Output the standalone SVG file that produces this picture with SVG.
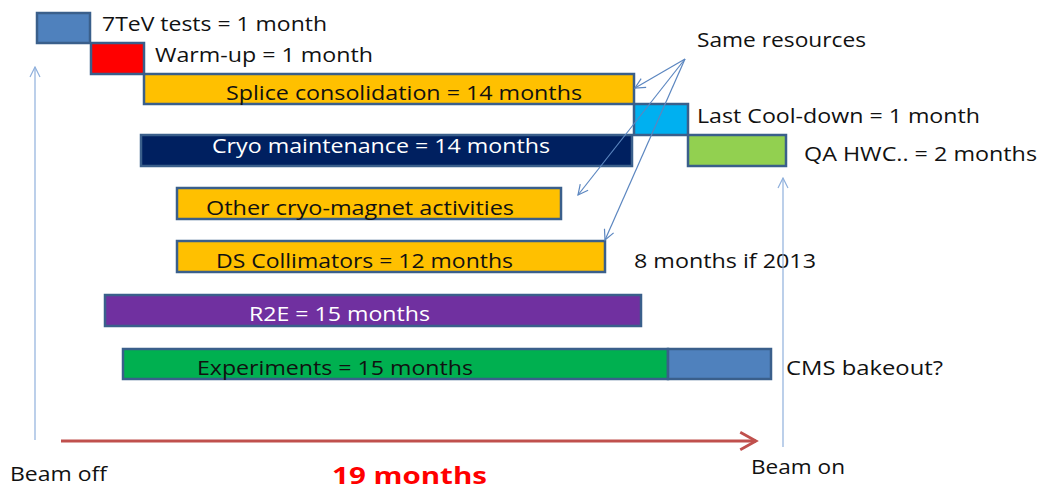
<svg xmlns="http://www.w3.org/2000/svg" width="1040" height="491" viewBox="0 0 1040 491">
<defs>
<style>
.bar{stroke:#3a5f8b;stroke-width:2.5}
.t{font-family:"Open Sans","Liberation Sans",sans-serif;font-size:20px;fill:#111}
.w{fill:#fff}
.ln{fill:none;stroke:#5b86c0;stroke-width:1.2}
.vl{fill:none;stroke:#8fb0dc;stroke-width:1.2}
</style>
<marker id="ah" viewBox="0 0 12 12" refX="11" refY="6" markerWidth="12" markerHeight="12" markerUnits="userSpaceOnUse" orient="auto"><path d="M1,1 L11,6 L1,11" fill="none" stroke="#5b86c0" stroke-width="1.2"/></marker>
<marker id="ahv" viewBox="0 0 12 12" refX="11" refY="6" markerWidth="12" markerHeight="12" markerUnits="userSpaceOnUse" orient="auto"><path d="M1,1 L11,6 L1,11" fill="none" stroke="#8fb0dc" stroke-width="1.2"/></marker>
<marker id="ahr" viewBox="0 0 12 12" refX="10" refY="6" markerWidth="7" markerHeight="7" orient="auto"><path d="M1,1 L10,6 L1,11" fill="none" stroke="#c0504d" stroke-width="1.6"/></marker>
</defs>
<rect width="1040" height="491" fill="#fff"/>
<g id="n-7tev"><rect class="bar" x="37" y="13" width="53" height="30" fill="#4f81bd"/><text class="t" x="102" y="31" textLength="225" lengthAdjust="spacingAndGlyphs">7TeV tests = 1 month</text></g>
<g id="n-warmup"><rect class="bar" x="91" y="43" width="53" height="31" fill="#ff0000"/><text class="t" x="155" y="62" textLength="218" lengthAdjust="spacingAndGlyphs">Warm-up = 1 month</text></g>
<g id="n-splice"><rect class="bar" x="144" y="74" width="490" height="30" fill="#ffc000"/><text class="t" x="226" y="100" textLength="356" lengthAdjust="spacingAndGlyphs">Splice consolidation = 14 months</text></g>
<g id="n-cooldown"><rect class="bar" x="634" y="104" width="54" height="31" fill="#00b0f0"/><text class="t" x="697" y="123" textLength="283" lengthAdjust="spacingAndGlyphs">Last Cool-down = 1 month</text></g>
<g id="n-cryo"><rect class="bar" x="141" y="135" width="491" height="31" fill="#002060"/><text class="t w" x="212" y="153" textLength="338" lengthAdjust="spacingAndGlyphs">Cryo maintenance = 14 months</text></g>
<g id="n-qa"><rect class="bar" x="688" y="135" width="98" height="31" fill="#92d050"/><text class="t" x="804" y="161" textLength="233" lengthAdjust="spacingAndGlyphs">QA HWC.. = 2 months</text></g>
<g id="n-same"><text class="t" x="697" y="47" textLength="169" lengthAdjust="spacingAndGlyphs">Same resources</text></g>
<g id="n-other"><rect class="bar" x="177" y="188" width="384" height="31" fill="#ffc000"/><text class="t" x="206" y="215" textLength="308" lengthAdjust="spacingAndGlyphs">Other cryo-magnet activities</text></g>
<g id="n-ds"><rect class="bar" x="177" y="241" width="428" height="31" fill="#ffc000"/><text class="t" x="216" y="268" textLength="297" lengthAdjust="spacingAndGlyphs">DS Collimators = 12 months</text><text class="t" x="634" y="268" textLength="182" lengthAdjust="spacingAndGlyphs">8 months if 2013</text></g>
<g id="n-r2e"><rect class="bar" x="105" y="295" width="536" height="31" fill="#7030a0"/><text class="t w" x="249" y="321" textLength="181" lengthAdjust="spacingAndGlyphs">R2E = 15 months</text></g>
<g id="n-exp"><rect class="bar" x="123" y="349" width="545" height="30" fill="#00b050"/><rect class="bar" x="668" y="349" width="103" height="30" fill="#4f81bd"/><text class="t" x="197" y="375" textLength="276" lengthAdjust="spacingAndGlyphs">Experiments = 15 months</text><text class="t" x="786" y="375" textLength="157" lengthAdjust="spacingAndGlyphs">CMS bakeout?</text></g>
<g id="n-beamoff"><text class="t" x="10" y="481" textLength="97" lengthAdjust="spacingAndGlyphs">Beam off</text></g>
<g id="n-beamon"><text class="t" x="751" y="474" textLength="94" lengthAdjust="spacingAndGlyphs">Beam on</text></g>
<g id="n-19"><text class="t" x="332" y="484" textLength="155" lengthAdjust="spacingAndGlyphs" style="font-weight:bold;font-size:23px;fill:#ff0000">19 months</text></g>
<g id="connectors">
<line class="ln" x1="685" y1="59" x2="635" y2="88" marker-end="url(#ah)"/>
<line class="ln" x1="685" y1="59" x2="578" y2="195" marker-end="url(#ah)"/>
<line class="ln" x1="685" y1="59" x2="605" y2="240" marker-end="url(#ah)"/>
<line class="vl" x1="35" y1="440" x2="35" y2="67" marker-end="url(#ahv)"/>
<line class="vl" x1="783" y1="447" x2="783" y2="178" marker-end="url(#ahv)"/>
<line x1="61" y1="441" x2="756" y2="441" stroke="#c0504d" stroke-width="3" marker-end="url(#ahr)"/>
</g>
</svg>
